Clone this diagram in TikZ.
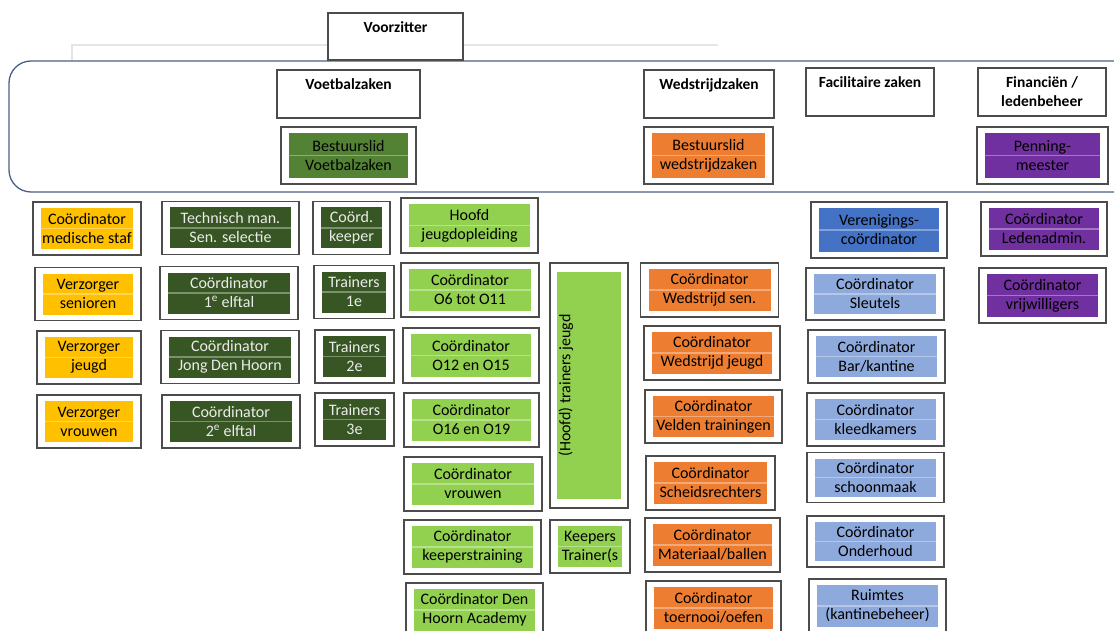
\documentclass[tikz,border=0pt]{standalone}
\usepackage{graphicx}
\usepackage{fontspec}
\setmainfont{Carlito}

\definecolor{cyel}{HTML}{FFC000}
\definecolor{cdgr}{HTML}{375623}
\definecolor{cmgr}{HTML}{548235}
\definecolor{clgr}{HTML}{92D050}
\definecolor{corg}{HTML}{ED7D31}
\definecolor{cppl}{HTML}{7030A0}
\definecolor{cblu}{HTML}{4472C4}
\definecolor{clbl}{HTML}{8EA9DB}
\definecolor{cband}{HTML}{4A6086}

\begin{document}
\begin{tikzpicture}[x=1pt,y=-1pt]
        \tikzstyle{every node}=[align=center, inner sep=0pt, font=\fontsize{16}{19}\selectfont]
        \tikzstyle{frame}=[draw=black!70, line width=1.2pt, fill=white]
        \tikzstyle{head}=[frame, minimum height=48pt, font=\fontsize{15.5}{19}\selectfont\bfseries]
        \tikzstyle{cell}=[frame, minimum height=53pt, path picture={\fill[#1] ([shift={(8pt,6pt)}]path picture bounding box.south west) rectangle ([shift={(-8pt,-6pt)}]path picture bounding box.north east); \draw[white, opacity=0.35] ([xshift=8pt]path picture bounding box.west) -- ([xshift=-8pt]path picture bounding box.east);}]
        \tikzstyle{tall}=[frame, path picture={\fill[#1] ([shift={(7pt,9pt)}]path picture bounding box.south west) rectangle ([shift={(-7pt,-9pt)}]path picture bounding box.north east);}]
        \tikzstyle{dgr}=[cell=cdgr, text=white!92!black]
        \useasboundingbox (0,0) rectangle (1114,631);
        % band with the board
        \draw[black!10, line width=1.5pt] (72,61) |- (718,45);
        \draw[cband, line width=1.3pt, rounded corners=22pt] (9,61) rectangle (1140,192);
        \node[head, minimum width=135pt, minimum height=47pt] (voorz) at (395.5,36.5) {Voorzitter\\\mbox{}};
        \node[head, minimum width=143pt] (hvoet) at (348.5,94) {Voetbalzaken\\\mbox{}};
        \node[head, minimum width=130pt] (hwed) at (709,94) {Wedstrijdzaken\\\mbox{}};
        \node[head, minimum width=128pt] (hfac) at (870,92) {Facilitaire zaken\\\mbox{}};
        \node[head, minimum width=128pt] (hfin) at (1042,92) {Financiën /\\ledenbeheer};
        \node[cell=cmgr, minimum width=135pt, minimum height=57pt] (bvoet) at (348.5,155.5) {Bestuurslid\\Voetbalzaken};
        \node[cell=corg, minimum width=129pt, minimum height=57pt] (bwed) at (708.5,155.5) {Bestuurslid\\wedstrijdzaken};
        \node[cell=cppl, minimum width=131pt, minimum height=57pt] (bpen) at (1042.5,155.5) {Penning-\\meester};
        % medische staf
        \node[cell=cyel, minimum width=108pt] (medstaf) at (87,228.5) {Coördinator\\medische staf};
        \node[cell=cyel, minimum width=106pt] (verzsen) at (88,294) {Verzorger\\senioren};
        \node[cell=cyel, minimum width=104pt] (verzjeu) at (89,357.5) {Verzorger\\jeugd};
        \node[cell=cyel, minimum width=104pt] (verzvro) at (89,421.5) {Verzorger\\vrouwen};
        % senioren
        \node[dgr, minimum width=137pt] (techman) at (230.5,228) {Technisch man.\\Sen. selectie};
        \node[dgr, minimum width=138pt] (coo1) at (229,293) {Coördinator\\1\textsuperscript{e} elftal};
        \node[dgr, minimum width=138pt] (jong) at (230,357) {Coördinator\\Jong Den Hoorn};
        \node[dgr, minimum width=138pt] (coo2) at (231,421.5) {Coördinator\\2\textsuperscript{e} elftal};
        \node[dgr, minimum width=77pt] (keeper) at (351.5,228) {Coörd.\\keeper};
        \node[dgr, minimum width=80pt] (tr1) at (354,292) {Trainers\\1e};
        \node[dgr, minimum width=79pt] (tr2) at (354.5,356.5) {Trainers\\2e};
        \node[dgr, minimum width=79pt] (tr3) at (354.5,419.5) {Trainers\\3e};
        % jeugd
        \node[cell=clgr, minimum width=137pt, minimum height=55pt] (hjeugd) at (469.5,225.5) {Hoofd\\jeugdopleiding};
        \node[cell=clgr, minimum width=138pt, minimum height=54pt] (o6) at (470,290) {Coördinator\\O6 tot O11};
        \node[cell=clgr, minimum width=136pt, minimum height=55pt] (o12) at (471,355.5) {Coördinator\\O12 en O15};
        \node[cell=clgr, minimum width=135pt, minimum height=54pt] (o16) at (471.5,420) {Coördinator\\O16 en O19};
        \node[cell=clgr, minimum width=138pt, minimum height=54pt] (vrouwen) at (473,484) {Coördinator\\vrouwen};
        \node[cell=clgr, minimum width=137pt, minimum height=54pt] (keepertr) at (472.5,547) {Coördinator\\keeperstraining};
        \node[cell=clgr, minimum width=137pt, minimum height=54pt] (academy) at (474.5,610) {Coördinator Den\\Hoorn Academy};
        \node[tall=clgr, minimum width=78pt, minimum height=245pt] (trjeugd) at (589,385.5) {\rotatebox{90}{(Hoofd) trainers jeugd}\hspace*{46pt}};
        \node[cell=clgr, minimum width=80pt] (keepers) at (590,546.5) {Keepers\\Trainer(s};
        % wedstrijden
        \node[cell=corg, minimum width=138pt, minimum height=54pt] (wsen) at (709.5,290) {Coördinator\\Wedstrijd sen.};
        \node[cell=corg, minimum width=136pt, minimum height=54pt] (wjeu) at (712,353) {Coördinator\\Wedstrijd jeugd};
        \node[cell=corg, minimum width=137pt, minimum height=53pt] (velden) at (713.5,416.5) {Coördinator\\Velden trainingen};
        \node[cell=corg, minimum width=129pt, minimum height=54pt] (scheids) at (710.5,483) {Coördinator\\Scheidsrechters};
        \node[cell=corg, minimum width=135pt, minimum height=54pt] (materiaal) at (712.5,545) {Coördinator\\Materiaal/ballen};
        \node[cell=corg, minimum width=135pt, minimum height=54pt] (toernooi) at (713.5,608) {Coördinator\\toernooi/oefen};
        % facilitair
        \node[cell=cblu, minimum width=136pt, minimum height=56pt] (vereniging) at (879,230) {Verenigings-\\coördinator};
        \node[cell=clbl, minimum width=138pt, minimum height=52pt] (sleutels) at (875,294) {Coördinator\\Sleutels};
        \node[cell=clbl, minimum width=137pt, minimum height=53pt] (bar) at (876.5,356.5) {Coördinator\\Bar/kantine};
        \node[cell=clbl, minimum width=137pt, minimum height=53pt] (kleed) at (875.5,419.5) {Coördinator\\kleedkamers};
        \node[cell=clbl, minimum width=137pt, minimum height=50pt] (schoon) at (875.5,477.5) {Coördinator\\schoonmaak};
        \node[cell=clbl, minimum width=137pt, minimum height=51pt] (onderhoud) at (875.5,541.5) {Coördinator\\Onderhoud};
        \node[cell=clbl, minimum width=137pt, minimum height=54pt] (ruimtes) at (877.5,606) {Ruimtes\\(kantinebeheer)};
        % leden
        \node[cell=cppl, minimum width=126pt, minimum height=54pt] (ledenadm) at (1044,229) {Coördinator\\Ledenadmin.};
        \node[cell=cppl, minimum width=127pt, minimum height=55pt] (vrijw) at (1042.5,295.5) {Coördinator\\vrijwilligers};
\end{tikzpicture}
\end{document}
